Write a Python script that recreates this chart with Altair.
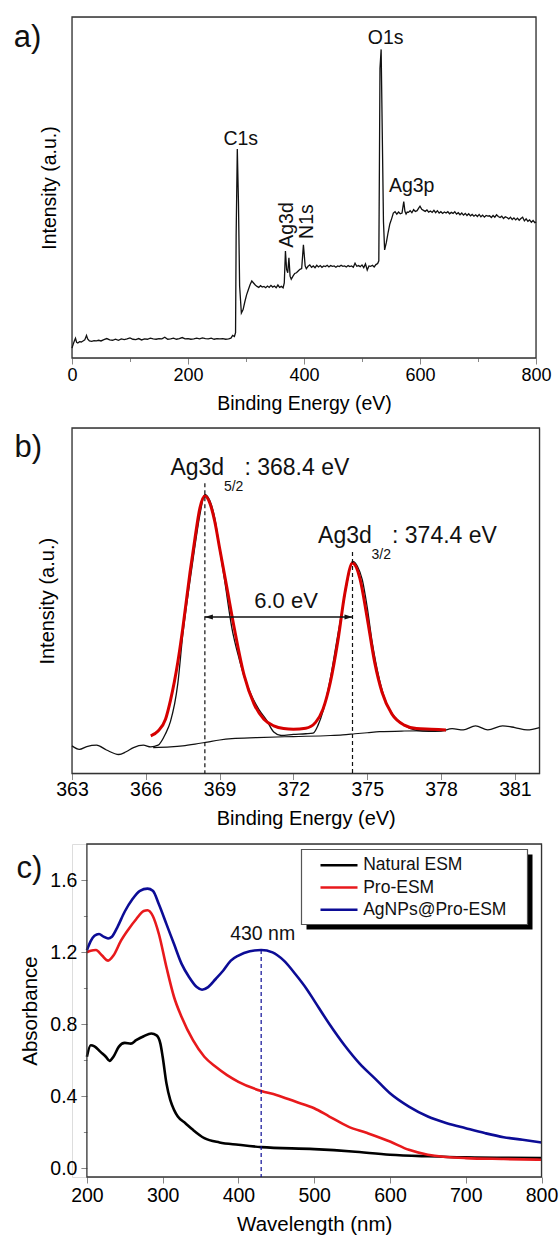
import altair as alt
import pandas as pd

FONT = "Liberation Sans"
INK = "#111111"
FRAME = "#333333"

# ---------------- panel a : XPS survey spectrum ----------------
a_energy = [0, 2, 4, 6, 8, 10, 13, 16, 19, 22, 25, 27, 30, 34, 38, 42, 46, 50, 55, 60,
            65, 70, 75, 80, 85, 90, 95, 100, 105, 110, 115, 120, 125, 130, 135, 140, 145, 150, 155, 160,
            165, 170, 175, 180, 185, 190, 195, 200, 205, 210, 215, 220, 225, 230, 235, 240, 245, 250, 255, 260,
            265, 270, 274, 277, 280, 282, 283, 285, 287, 289, 292, 295, 298, 301, 304, 307, 310, 313, 316, 319,
            322, 325, 328, 331, 334, 337, 340, 343, 346, 349, 352, 355, 358, 361, 364, 366, 368, 370, 372, 374,
            376, 378, 381, 384, 387, 390, 393, 396, 399, 402, 404, 407, 410, 413, 416, 419, 422, 425, 428, 431,
            434, 437, 440, 443, 446, 449, 452, 455, 458, 461, 464, 467, 470, 473, 476, 479, 482, 485, 488, 491,
            494, 497, 500, 503, 506, 509, 512, 515, 518, 521, 524, 527, 529, 530, 531, 533, 535, 537, 539, 542,
            545, 548, 551, 554, 557, 560, 563, 566, 569, 572, 574, 576, 578, 580, 583, 586, 589, 592, 595, 598,
            600, 603, 606, 609, 612, 615, 618, 621, 624, 627, 630, 633, 636, 639, 642, 645, 648, 651, 654, 657,
            660, 663, 666, 669, 672, 675, 678, 681, 684, 687, 690, 693, 696, 699, 702, 705, 708, 711, 714, 717,
            720, 723, 726, 729, 732, 735, 738, 741, 744, 747, 750, 753, 756, 759, 762, 765, 768, 771, 774, 777,
            780, 783, 786, 789, 792, 795, 798, 800]
a_intensity = [2.9, 4.0, 5.0, 5.8, 4.6, 4.4, 4.8, 4.7, 5.0, 5.3, 6.6, 5.6, 5.0, 4.9, 5.1, 5.0, 5.2, 5.0, 5.4, 5.7,
               5.3, 5.2, 5.5, 5.2, 5.6, 5.4, 5.6, 5.9, 5.5, 5.4, 5.7, 5.3, 5.6, 5.5, 5.8, 5.6, 5.5, 5.7, 5.6, 6.1,
               5.5, 5.6, 5.8, 5.5, 5.7, 6.0, 5.6, 5.7, 5.5, 5.6, 5.8, 5.6, 5.9, 5.7, 5.6, 5.8, 5.5, 5.7, 5.6, 5.7,
               5.5, 5.6, 5.8, 6.6, 6.3, 7.4, 35.8, 61.3, 45.6, 21.1, 13.2, 14.2, 16.5, 18.5, 20.0, 21.5, 22.6, 22.0, 21.4, 21.0,
               20.7, 21.2, 20.8, 21.0, 20.6, 21.1, 20.7, 21.3, 20.8, 21.1, 20.6, 21.4, 20.7, 21.0, 20.6, 22.0, 31.4, 26.0, 25.0, 29.4,
               24.0, 23.1, 24.0, 24.8, 25.0, 25.5, 26.0, 26.2, 33.2, 27.0, 26.2, 26.9, 27.3, 26.6, 27.0, 26.5, 27.2, 26.7, 27.1, 26.6,
               27.0, 26.8, 27.2, 26.7, 27.1, 26.9, 27.0, 26.6, 27.0, 26.8, 27.2, 26.9, 27.0, 26.7, 27.1, 26.8, 27.0, 26.6, 27.8, 26.9,
               27.1, 26.8, 27.3, 26.5, 27.6, 25.8, 27.0, 26.9, 27.2, 26.7, 27.4, 27.7, 28.5, 55.4, 84.9, 90.5, 65.3, 40.0, 31.7, 33.9,
               36.8, 39.3, 40.8, 42.5, 42.9, 42.2, 42.8, 42.3, 42.5, 45.9, 43.0, 42.2, 42.8, 42.7, 43.2, 42.6, 43.5, 43.0, 43.2, 44.0,
               44.5, 43.6, 43.3, 43.0, 43.4, 42.8, 43.1, 42.7, 43.3, 42.6, 43.2, 42.5, 42.9, 42.4, 42.8, 42.5, 42.9, 42.3, 42.7, 42.4,
               42.9, 42.2, 42.6, 42.0, 42.5, 41.9, 42.4, 41.8, 42.3, 41.7, 42.1, 41.6, 42.0, 41.5, 42.1, 41.4, 41.9, 41.3, 41.8, 41.6,
               41.7, 41.2, 41.8, 41.3, 42.0, 41.5, 41.2, 41.6, 40.9, 41.4, 41.2, 40.8, 41.3, 40.6, 41.1, 40.5, 41.0, 40.4, 40.9, 41.3,
               40.2, 40.8, 40.1, 40.5, 39.8, 40.3, 39.7, 39.9]
a_ticks = [0, 100, 200, 300, 400, 500, 600, 700, 800]
a_peak_names = ["C1s", "O1s", "Ag3p"]
a_peak_x = [290.9, 540.8, 585.6]
a_peak_y = [62.5, 92.0, 48.8]
a_rot_names = ["Ag3d", "N1s"]
a_rot_x = [371.1, 404.8]
a_rot_y = [39.0, 40.0]

# ---------------- panel b : Ag3d high resolution ----------------
b_raw_energy = [363.0, 363.3, 363.6, 364.0, 364.4, 364.9, 365.2, 365.5, 365.9, 366.2,
                366.5, 366.8, 367.0, 367.3, 367.5, 367.8, 368.0, 368.2, 368.4, 368.6,
                368.8, 369.0, 369.2, 369.5, 369.8, 370.0, 370.3, 370.6, 370.9, 371.2,
                371.5, 372.0, 372.5, 372.8, 373.0, 373.2, 373.5, 373.8, 374.0, 374.2,
                374.4, 374.6, 374.8, 375.0, 375.2, 375.5, 375.8, 376.0, 376.5, 377.0,
                377.5, 378.0, 378.45, 378.9, 379.4, 379.9, 380.5, 381.0, 381.5, 382.0]
b_raw_intensity = [8.0, 7.0, 7.8, 8.2, 6.8, 5.5, 6.3, 7.5, 8.2, 7.7,
                   8.2, 11.5, 15.0, 26.0, 40.0, 56.0, 66.0, 75.0, 80.8, 79.0,
                   74.0, 65.0, 56.0, 42.0, 33.0, 28.0, 22.5, 18.5, 15.5, 12.0,
                   11.0, 11.3, 11.5, 11.7, 14.0, 18.0, 27.5, 40.0, 48.0, 56.0,
                   61.4, 60.0, 56.0, 48.0, 38.0, 27.0, 20.0, 17.5, 14.0, 12.5,
                   12.2, 12.3, 13.0, 12.6, 13.8, 12.6, 13.8, 13.3, 12.6, 13.3]
b_fit_energy = [366.2, 366.5, 366.8, 367.0, 367.3, 367.5, 367.8, 368.0, 368.2, 368.4,
                368.6, 368.8, 369.0, 369.3, 369.6, 370.0, 370.4, 370.8, 371.2, 371.6,
                372.0, 372.5, 372.9, 373.2, 373.5, 373.8, 374.1, 374.4, 374.7, 375.0,
                375.3, 375.6, 376.0, 376.5, 377.0, 377.6, 378.2]
b_fit_intensity = [10.9, 12.3, 15.7, 21.1, 32.2, 41.9, 58.4, 68.2, 76.9, 80.3,
                   78.3, 73.0, 65.2, 53.6, 41.9, 28.3, 20.1, 15.7, 13.8, 13.0,
                   12.8, 13.1, 14.8, 18.6, 26.4, 38.1, 52.6, 60.9, 56.5, 44.9,
                   32.2, 23.5, 17.2, 14.0, 13.0, 12.8, 12.6]
b_bg_energy = [366.3, 367.0, 367.5, 368.0, 368.5, 369.0, 369.5, 370.5, 372.0, 373.5,
               374.0, 374.5, 375.0, 375.5, 376.5, 378.2]
b_bg_intensity = [7.5, 7.7, 8.0, 8.5, 9.1, 9.7, 10.1, 10.4, 10.7, 11.0,
                  11.2, 11.5, 11.8, 12.1, 12.3, 12.4]
b_ticks = [363, 364.5, 366, 367.5, 369, 370.5, 372, 373.5, 375, 376.5, 378, 379.5, 381]
b_peak_energy = [368.4, 374.4]
b_peak_line_top = [84.0, 64.1]
b_label_x = [367.0, 373.0]
b_label_y = [86.4, 66.7]
b_label_main = ["Ag3d", "Ag3d"]
b_label_sub = ["5/2", "3/2"]
b_label_tail = [": 368.4 eV", ": 374.4 eV"]
b_split_text = "6.0 eV"
b_split_x = 371.7
b_split_text_y = 47.8
b_arrow_y = 45.3

# ---------------- panel c : UV-vis ----------------
series_names = ["Natural ESM", "Pro-ESM", "AgNPs@Pro-ESM"]
series_colors = ["#000000", "#e8191c", "#0c0c96"]
c_wl_natural = [200, 205, 210, 218, 225, 230, 235, 242, 250, 258, 265, 275, 285, 292, 297, 300,
                305, 310, 315, 320, 330, 340, 355, 375, 400, 430, 500, 550, 600, 650, 700, 800]
c_abs_natural = [0.618, 0.682, 0.676, 0.645, 0.618, 0.595, 0.618, 0.673, 0.695, 0.691, 0.710, 0.732,
                 0.747, 0.737, 0.691, 0.618, 0.470, 0.378, 0.323, 0.286, 0.249, 0.212, 0.166, 0.142,
                 0.129, 0.116, 0.105, 0.092, 0.074, 0.065, 0.059, 0.055]
c_wl_pro = [200, 205, 212, 220, 228, 235, 245, 255, 265, 275, 280, 287, 295, 305, 315, 325, 340,
            355, 370, 385, 400, 430, 450, 475, 500, 520, 545, 570, 600, 625, 650, 700, 750, 800]
c_abs_pro = [1.198, 1.207, 1.211, 1.180, 1.152, 1.180, 1.263, 1.327, 1.382, 1.428, 1.432, 1.400,
             1.300, 1.115, 0.950, 0.839, 0.710, 0.618, 0.562, 0.516, 0.479, 0.428, 0.406, 0.369,
             0.332, 0.286, 0.230, 0.194, 0.147, 0.101, 0.074, 0.055, 0.050, 0.046]
c_wl_ag = [200, 205, 210, 216, 222, 228, 233, 240, 250, 260, 270, 280, 287, 295, 305, 315, 325,
           335, 345, 352, 360, 370, 380, 390, 400, 415, 430, 445, 460, 475, 490, 500, 520, 540,
           560, 580, 600, 625, 650, 675, 700, 725, 750, 775, 800]
c_abs_ag = [1.210, 1.260, 1.290, 1.300, 1.285, 1.275, 1.285, 1.336, 1.425, 1.493, 1.540, 1.552,
            1.540, 1.465, 1.355, 1.244, 1.134, 1.060, 1.005, 0.990, 1.005, 1.050, 1.097, 1.152,
            1.180, 1.204, 1.211, 1.198, 1.152, 1.078, 0.995, 0.930, 0.800, 0.682, 0.580, 0.498,
            0.415, 0.341, 0.286, 0.249, 0.221, 0.194, 0.171, 0.157, 0.142]
c_x_ticks = [200, 250, 300, 350, 400, 450, 500, 550, 600, 650, 700, 750, 800]
c_y_ticks = [0, 0.2, 0.4, 0.6, 0.8, 1.0, 1.2, 1.4, 1.6]
c_marker_wl = 430
c_marker_top = 1.211
c_marker_text = "430 nm"
c_marker_text_y = 1.265

panel_letters = ["a)", "b)", "c)"]

# ---------------- layout constants (pixels) ----------------
ORIGIN = 71.5           # common left edge of the plot areas
W_A, H_A = 464, 341
W_B, H_B = 467.5, 345.5
W_C, H_C = 469.5, 333
C_SHIFT = 86.4 - ORIGIN  # panel c frame starts further right
C_K = (W_C - C_SHIFT) / 600.0
C_X0 = 200 - C_SHIFT / C_K


def frame(x0, x1, y0, y1):
    return alt.Chart(pd.DataFrame({"k": [0]})).mark_rect(
        fillOpacity=0, stroke=FRAME, strokeWidth=1.3
    ).encode(x=alt.datum(x0), x2=alt.datum(x1), y=alt.datum(y0), y2=alt.datum(y1))


def letter(t, x, y):
    return alt.Chart(pd.DataFrame({"t": [t]})).mark_text(
        font=FONT, fontSize=31, align="left", baseline="alphabetic", color=INK
    ).encode(text="t:N", x=alt.value(x), y=alt.value(y))


# ================= panel a =================
df_a = pd.DataFrame({"E": a_energy, "I": a_intensity})
xa = alt.X("E:Q", scale=alt.Scale(domain=[0, 800], nice=False, zero=False),
           axis=alt.Axis(values=a_ticks, domain=False, grid=False, labelFlush=False,
                         labelExpr="datum.value % 200 === 0 ? datum.label : ''",
                         tickSize={"condition": {"test": "datum.value % 200 === 0", "value": 6}, "value": 3.5},
                         labelFontSize=18, labelPadding=2, title="Binding Energy (eV)",
                         titleFontSize=19.5, titleFontWeight="normal", titlePadding=10))
ya = alt.Y("I:Q", scale=alt.Scale(domain=[0, 100], nice=False, zero=False),
           axis=alt.Axis(labels=False, ticks=False, domain=False, grid=False,
                         title="Intensity (a.u.)", titleFontSize=19.5, titleFontWeight="normal",
                         titlePadding=13))
line_a = alt.Chart(df_a).mark_line(color=INK, strokeWidth=1.3).encode(x=xa, y=ya)
txt_a = alt.Chart(pd.DataFrame({"E": a_peak_x, "I": a_peak_y, "t": a_peak_names})).mark_text(
    font=FONT, fontSize=19.5, align="center", baseline="alphabetic", color=INK
).encode(x="E:Q", y="I:Q", text="t:N")
rot_a = alt.Chart(pd.DataFrame({"E": a_rot_x, "I": a_rot_y, "t": a_rot_names})).mark_text(
    font=FONT, fontSize=19.5, align="center", baseline="middle", angle=270, color=INK
).encode(x="E:Q", y="I:Q", text="t:N")
panel_a = alt.layer(frame(0, 800, 0, 100), line_a, txt_a, rot_a,
                    letter(panel_letters[0], 13.3 - ORIGIN, 30)).properties(width=W_A, height=H_A)

# ================= panel b =================
xb_axis = alt.Axis(values=b_ticks, domain=False, grid=False, labelFlush=False,
                   labelExpr="(datum.value - 363) % 3 === 0 ? format(datum.value, '.0f') : ''",
                   tickSize={"condition": {"test": "(datum.value - 363) % 3 === 0", "value": 6}, "value": 3.5},
                   labelFontSize=19.5, labelPadding=1, title="Binding Energy (eV)",
                   titleFontSize=20, titleFontWeight="normal", titlePadding=9)
xb = alt.X("E:Q", scale=alt.Scale(domain=[363, 382], nice=False, zero=False), axis=xb_axis)
yb = alt.Y("I:Q", scale=alt.Scale(domain=[0, 100], nice=False, zero=False),
           axis=alt.Axis(labels=False, ticks=False, domain=False, grid=False,
                         title="Intensity (a.u.)", titleFontSize=20, titleFontWeight="normal",
                         titlePadding=15))
raw_b = alt.Chart(pd.DataFrame({"E": b_raw_energy, "I": b_raw_intensity})).mark_line(
    color=INK, strokeWidth=1.3, interpolate="monotone").encode(x=xb, y=yb)
bg_b = alt.Chart(pd.DataFrame({"E": b_bg_energy, "I": b_bg_intensity})).mark_line(
    color=INK, strokeWidth=1.2, interpolate="monotone").encode(x="E:Q", y="I:Q")
fit_b = alt.Chart(pd.DataFrame({"E": b_fit_energy, "I": b_fit_intensity})).mark_line(
    color="#d60000", strokeWidth=3, interpolate="monotone").encode(x="E:Q", y="I:Q")
vlines_b = alt.Chart(pd.DataFrame({"E": b_peak_energy, "top": b_peak_line_top})).mark_rule(
    color=INK, strokeWidth=1.2, strokeDash=[4, 3]).encode(x="E:Q", y="top:Q", y2=alt.datum(0))
arrow_b = alt.Chart(pd.DataFrame({"E": [b_peak_energy[0]], "E2": [b_peak_energy[1]], "I": [b_arrow_y]})).mark_rule(
    color=INK, strokeWidth=1.3).encode(x="E:Q", x2="E2:Q", y="I:Q")
head_l = alt.Chart(pd.DataFrame({"E": [b_peak_energy[0]], "I": [b_arrow_y]})).mark_point(
    shape="M -1 0 L 1 -0.6 L 1 0.6 Z", filled=True, color=INK, opacity=1, size=64, xOffset=4
).encode(x="E:Q", y="I:Q")
head_r = alt.Chart(pd.DataFrame({"E": [b_peak_energy[1]], "I": [b_arrow_y]})).mark_point(
    shape="M 1 0 L -1 -0.6 L -1 0.6 Z", filled=True, color=INK, opacity=1, size=64, xOffset=-4
).encode(x="E:Q", y="I:Q")
lab_df = pd.DataFrame({"E": b_label_x, "I": b_label_y, "m": b_label_main,
                       "s": b_label_sub, "t": b_label_tail})
lab_main = alt.Chart(lab_df).mark_text(font=FONT, fontSize=23, align="left", baseline="alphabetic",
                                       color=INK).encode(x="E:Q", y="I:Q", text="m:N")
lab_sub = alt.Chart(lab_df).mark_text(font=FONT, fontSize=14, align="left", baseline="alphabetic",
                                      color=INK, dx=53.5, dy=16).encode(x="E:Q", y="I:Q", text="s:N")
lab_tail = alt.Chart(lab_df).mark_text(font=FONT, fontSize=23, align="left", baseline="alphabetic",
                                       color=INK, dx=74).encode(x="E:Q", y="I:Q", text="t:N")
split_txt = alt.Chart(pd.DataFrame({"E": [b_split_x], "I": [b_split_text_y], "t": [b_split_text]})).mark_text(
    font=FONT, fontSize=22, align="center", baseline="alphabetic", color=INK
).encode(x="E:Q", y="I:Q", text="t:N")
panel_b = alt.layer(frame(363, 382, 0, 100), raw_b, bg_b, fit_b, vlines_b, arrow_b, head_l, head_r,
                    lab_main, lab_sub, lab_tail, split_txt,
                    letter(panel_letters[1], 14 - ORIGIN, 29)).properties(width=W_B, height=H_B)

# ================= panel c =================
c_rows = []
for name, wls, vals in zip(series_names, [c_wl_natural, c_wl_pro, c_wl_ag],
                           [c_abs_natural, c_abs_pro, c_abs_ag]):
    for w, v in zip(wls, vals):
        c_rows.append({"series": name, "wl": w, "A": v})
df_c = pd.DataFrame(c_rows)

xc = alt.X("wl:Q", scale=alt.Scale(domain=[C_X0, 800], nice=False, zero=False),
           axis=alt.Axis(values=c_x_ticks, domain=False, grid=False, labelFlush=False,
                         labelExpr="datum.value % 100 === 0 ? datum.label : ''",
                         tickSize={"condition": {"test": "datum.value % 100 === 0", "value": 6}, "value": 3.5},
                         labelFontSize=19.5, labelPadding=3, title="Wavelength (nm)",
                         titleFontSize=20.5, titleFontWeight="normal", titlePadding=10,
                         titleX=(86.4 + 541) / 2 - ORIGIN))
yc = alt.Y("A:Q", scale=alt.Scale(domain=[-0.05, 1.8], nice=False, zero=False),
           axis=alt.Axis(values=c_y_ticks, domain=False, grid=False, offset=-C_SHIFT, labelFlush=False,
                         labelExpr="round(datum.value * 10) % 4 === 0 ? format(datum.value, '.1f') : ''",
                         tickSize={"condition": {"test": "round(datum.value * 10) % 4 === 0", "value": 6},
                                   "value": 3.5},
                         labelFontSize=19.5, labelPadding=4, title="Absorbance",
                         titleFontSize=20.5, titleFontWeight="normal", titlePadding=9))
lines_c = alt.Chart(df_c).mark_line(strokeWidth=2.6, interpolate="monotone").encode(
    x=xc, y=yc,
    color=alt.Color("series:N", scale=alt.Scale(domain=series_names, range=series_colors), legend=None),
    order=alt.Order("wl:Q"))
marker_c = alt.Chart(pd.DataFrame({"wl": [c_marker_wl], "A": [c_marker_top]})).mark_rule(
    color=series_colors[2], strokeWidth=1.2, strokeDash=[4, 3]).encode(x="wl:Q", y="A:Q", y2=alt.datum(-0.05))
marker_txt = alt.Chart(pd.DataFrame({"wl": [432], "A": [c_marker_text_y], "t": [c_marker_text]})).mark_text(
    font=FONT, fontSize=19.5, align="center", baseline="alphabetic", color=INK
).encode(x="wl:Q", y="A:Q", text="t:N")

legend_layers = [
    alt.Chart(pd.DataFrame({"k": [0]})).mark_rect(color="#000000").encode(
        x=alt.value(234.5), x2=alt.value(460.5), y=alt.value(10.5), y2=alt.value(85.5)),
    alt.Chart(pd.DataFrame({"k": [0]})).mark_rect(fill="#ffffff", stroke="#555555", strokeWidth=1.2).encode(
        x=alt.value(229.5), x2=alt.value(455.5), y=alt.value(5.5), y2=alt.value(80.5)),
]
for i, (name, col) in enumerate(zip(series_names, series_colors)):
    ry = 21.2 + 22.3 * i
    legend_layers.append(alt.Chart(pd.DataFrame({"s": [name]})).mark_rule(color=col, strokeWidth=2.5).encode(
        x=alt.value(248.5), x2=alt.value(285.5), y=alt.value(ry)))
    legend_layers.append(alt.Chart(pd.DataFrame({"s": [name]})).mark_text(
        font=FONT, fontSize=17.5, align="left", baseline="middle", color=INK).encode(
        text="s:N", x=alt.value(291.2), y=alt.value(ry)))

panel_c = alt.layer(lines_c, frame(200, 800, -0.05, 1.8), marker_c, marker_txt, *legend_layers,
                    letter(panel_letters[2], 16 - ORIGIN, 33.5)).properties(width=W_C, height=H_C)

chart = alt.vconcat(panel_a, panel_b, panel_c, spacing=70, bounds="flush").properties(
    padding={"left": 13, "top": 15, "right": 0, "bottom": 0}
).configure_view(strokeOpacity=0).configure_axis(
    labelFont=FONT, titleFont=FONT, titleFontWeight="normal", labelColor=INK, titleColor=INK,
    tickColor=FRAME, tickWidth=1.2
).configure(background="white")

chart.save("out.html", embed_options={"renderer": "svg", "actions": False})
